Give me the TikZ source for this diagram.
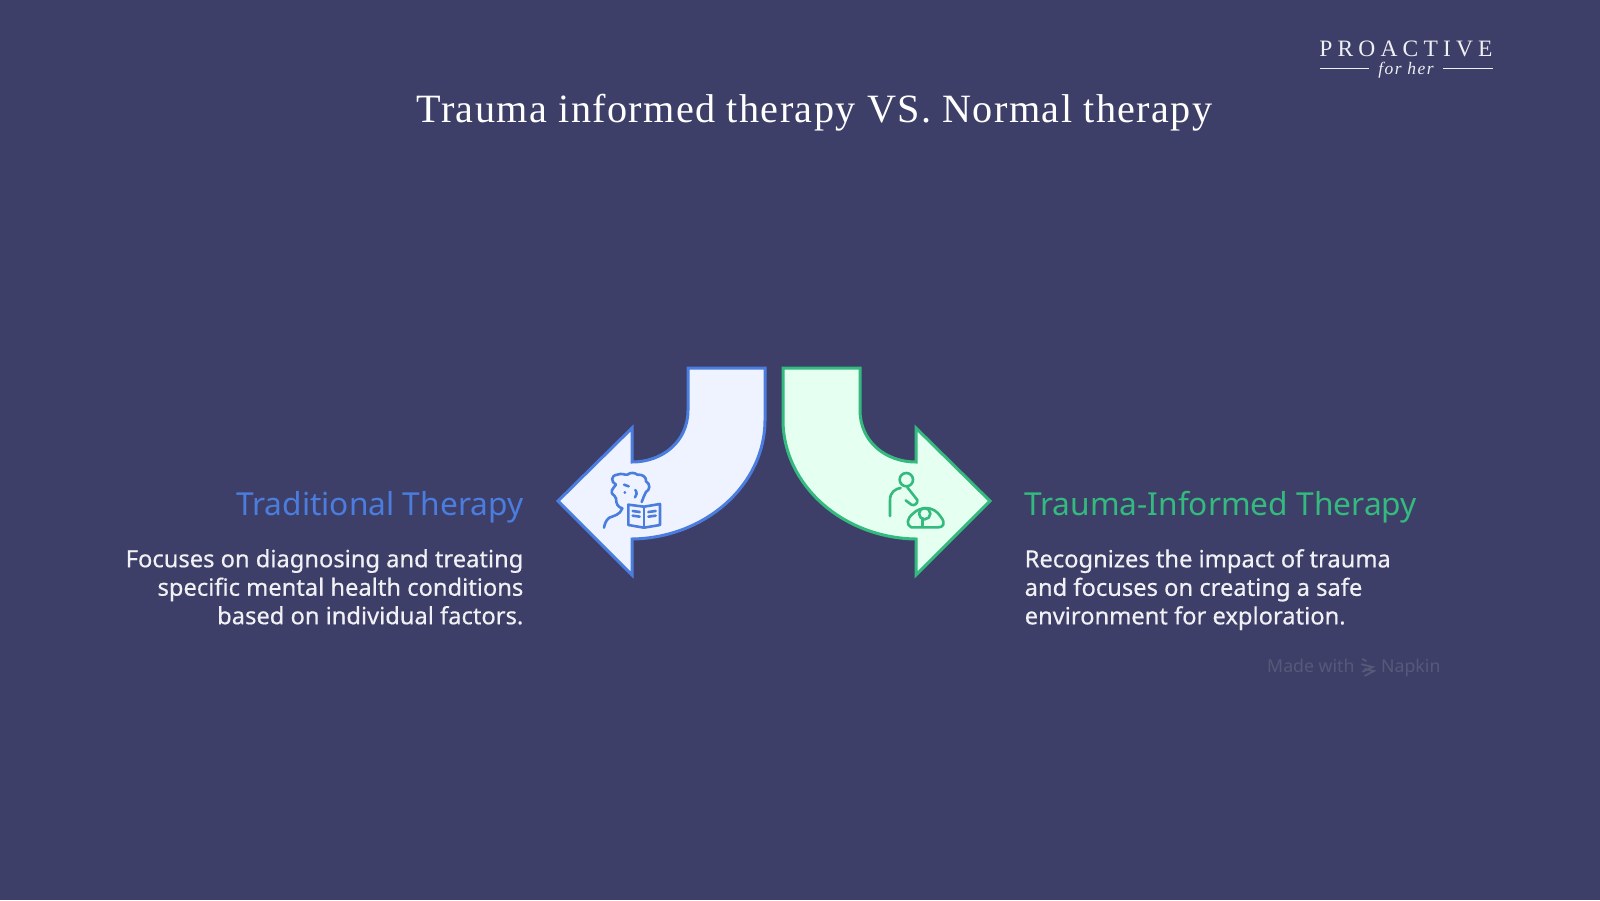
\documentclass[tikz,border=0pt]{standalone}
\usepackage{fontspec}
\setmainfont{Noto Sans}
\newfontfamily\titlefont[LetterSpace=3.4]{Liberation Serif}
\newfontfamily\logofont[LetterSpace=22]{Liberation Serif}
\newfontfamily\logoit[LetterSpace=8]{Liberation Serif}
\newfontfamily\bodyfont[FakeBold=0.5]{Noto Sans}
\definecolor{bg}{HTML}{3D3F68}
\definecolor{tblue}{HTML}{4A7DDD}
\definecolor{tgreen}{HTML}{34B97F}
\definecolor{fblue}{HTML}{EEF3FF}
\definecolor{fgreen}{HTML}{E5FFF0}
\definecolor{faint}{HTML}{575979}
\tikzset{
  heading/.style={inner sep=0pt,font=\fontsize{31.7}{38}\selectfont},
  bodytext/.style={inner sep=0pt,text=white!93!bg,font=\bodyfont\fontsize{23.7}{28.5}\selectfont},
  arrowshape/.style={line width=3pt,line join=miter,miter limit=10},
  iconline/.style={line width=2.6pt,line cap=round,line join=round},
}
\begin{document}
\begin{tikzpicture}[x=1pt,y=-1pt]
\useasboundingbox (0,0) rectangle (1600,900);
\fill[bg] (0,0) rectangle (1600,900);

\node[anchor=base,inner sep=0pt,text=white,font=\titlefont\fontsize{40.2}{46}\selectfont] (title) at (814.5,122) {Trauma informed therapy VS. Normal therapy};

\node[anchor=base,inner sep=0pt,text=white!92!bg,font=\logofont\fontsize{23.5}{28}\selectfont] (logo) at (1406,56) {PROACTIVE};
\node[anchor=base,inner sep=0pt,text=white!92!bg,font=\logoit\itshape\fontsize{17.5}{20}\selectfont] (forher) at (1406,74) {for her};
\coordinate (la) at (1320,68.5); \coordinate (lb) at (1369,68.5);
\coordinate (lc) at (1443,68.5); \coordinate (ld) at (1493,68.5);
\draw[white!92!bg,line width=1pt] (la) -- (lb) (lc) -- (ld);

% left arrow
\draw[tblue,fill=fblue,arrowshape] (688,368) -- (765,368) -- (765,420)
  .. controls (765,485) and (705,538) .. (632,539)
  -- (632,575) -- (558,501) -- (632,428) -- (632,462)
  .. controls (662,462) and (688,442) .. (688,410) -- cycle;
% right arrow
\draw[tgreen,fill=fgreen,arrowshape] (860,368) -- (783,368) -- (783,420)
  .. controls (783,485) and (843,538) .. (916,539)
  -- (916,575) -- (990,501) -- (916,428) -- (916,462)
  .. controls (886,462) and (860,442) .. (860,410) -- cycle;

% reader icon
\begin{scope}[shift={(540,350)},scale=1/3,tblue,iconline]
\draw (228,445) .. controls (222,430) and (212,436) .. (216,420)
  .. controls (218,412) and (226,410) .. (228,404)
  .. controls (212,396) and (212,376) .. (232,374)
  .. controls (245,368) and (255,376) .. (262,374)
  .. controls (272,366) and (285,368) .. (292,374)
  .. controls (308,372) and (320,382) .. (318,394)
  .. controls (332,402) and (330,420) .. (318,426)
  .. controls (312,435) and (310,445) .. (305,456);
\draw (252,404) -- (266,409);
\draw (254,427) -- (255,427);
\draw (286,420) .. controls (292,428) and (290,436) .. (285,442);
\draw (228,445) .. controls (228,462) and (234,472) .. (247,475)
  .. controls (240,495) and (222,497) .. (208,503)
  .. controls (198,510) and (194,522) .. (192,533);
\draw (265,464) -- (265,525) -- (312,533) -- (360,525) -- (360,462) -- (312,470) -- cycle;
\draw (312,470) -- (312,533);
\draw (278,483) -- (299,486) (278,497) -- (299,500) (325,486) -- (347,483) (325,500) -- (347,497);
\end{scope}

% carer icon
\begin{scope}[shift={(770,350)},scale=1/3,tgreen,iconline]
\draw (409,389) circle (20);
\draw (360,498) -- (360,450) .. controls (360,425) and (378,416) .. (392,414);
\draw (412,412) -- (442,450) .. controls (444,462) and (432,468) .. (424,464) -- (407,451);
\draw (424,532) .. controls (408,525) and (410,505) .. (430,490)
  .. controls (450,470) and (490,465) .. (512,500)
  .. controls (528,520) and (520,532) .. (505,532) -- cycle;
\draw (464,491) circle (17);
\draw (457,508) -- (457,530);
\end{scope}

\node[heading,anchor=base east,text=tblue] (ltitle) at (523.5,515) {Traditional Therapy};
\node[heading,anchor=base west,text=tgreen] (rtitle) at (1024,515) {Trauma-Informed Therapy};

\node[bodytext,anchor=north east,align=right] (lbody) at (523.5,549) {Focuses on diagnosing and treating\\specific mental health conditions\\based on individual factors.};
\node[bodytext,anchor=north west,align=left] (rbody) at (1024.5,549) {Recognizes the impact of trauma\\and focuses on creating a safe\\environment for exploration.};

\node[anchor=base west,inner sep=0pt,text=faint,font=\fontsize{17.7}{22}\selectfont] (made) at (1267,672) {Made with};
\node[anchor=base west,inner sep=0pt,text=faint,font=\fontsize{17.7}{22}\selectfont] (napkin) at (1381,672) {Napkin};
\begin{scope}[shift={(1250,645)},scale=1/3,faint,line width=1.8pt,line cap=round]
\draw (338,42) -- (348,48) (335,58) -- (368,66) -- (338,80) (345,72) -- (372,78) -- (345,92);
\end{scope}
\end{tikzpicture}
\end{document}
